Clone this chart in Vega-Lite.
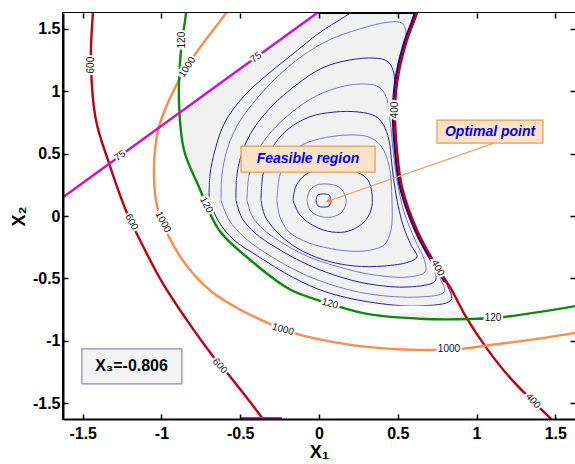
{
  "$schema": "https://vega.github.io/schema/vega-lite/v6.json",
  "width": 512,
  "height": 406,
  "autosize": {"type": "none"},
  "padding": {"left": 63, "top": 13, "right": 0, "bottom": 45},
  "background": "white",
  "config": {
    "view": {"stroke": "black", "strokeWidth": 2, "fill": "#f1f1f1"},
    "axis": {"labelFont": "Liberation Sans", "labelFontSize": 16, "labelFontWeight": "bold", "labelColor": "#000", "tickColor": "#000", "tickWidth": 1.5, "tickSize": -5, "domainColor": "#000", "domainWidth": 2, "grid": false, "titleFont": "Liberation Sans", "titleFontSize": 18, "titleFontWeight": "bold", "titleColor": "#000"}
  },
  "datasets": {
    "contours": [
      {"c":"c1","o":1,"x":-0.019,"y":0.128},{"c":"c1","o":2,"x":-0.006,"y":0.168},{"c":"c1","o":3,"x":0.029,"y":0.176},{"c":"c1","o":4,"x":0.063,"y":0.168},{"c":"c1","o":5,"x":0.076,"y":0.128},{"c":"c1","o":6,"x":0.063,"y":0.08},{"c":"c1","o":7,"x":0.029,"y":0.072},{"c":"c1","o":8,"x":-0.006,"y":0.08},{"c":"c1","o":9,"x":-0.019,"y":0.128},
      {"c":"c2","o":1,"x":-0.076,"y":0.128},{"c":"c2","o":2,"x":-0.057,"y":0.208},{"c":"c2","o":3,"x":-0.013,"y":0.248},{"c":"c2","o":4,"x":0.051,"y":0.256},{"c":"c2","o":5,"x":0.127,"y":0.232},{"c":"c2","o":6,"x":0.165,"y":0.168},{"c":"c2","o":7,"x":0.171,"y":0.104},{"c":"c2","o":8,"x":0.146,"y":0.032},{"c":"c2","o":9,"x":0.083,"y":-0.008},{"c":"c2","o":10,"x":0.0,"y":0.0},{"c":"c2","o":11,"x":-0.057,"y":0.048},{"c":"c2","o":12,"x":-0.076,"y":0.128},
      {"c":"c3","o":1,"x":-0.165,"y":0.128},{"c":"c3","o":2,"x":-0.146,"y":0.24},{"c":"c3","o":3,"x":-0.089,"y":0.328},{"c":"c3","o":4,"x":0,"y":0.376},{"c":"c3","o":5,"x":0.127,"y":0.384},{"c":"c3","o":6,"x":0.241,"y":0.352},{"c":"c3","o":7,"x":0.311,"y":0.288},{"c":"c3","o":8,"x":0.337,"y":0.168},{"c":"c3","o":9,"x":0.33,"y":0.048},{"c":"c3","o":10,"x":0.286,"y":-0.048},{"c":"c3","o":11,"x":0.19,"y":-0.12},{"c":"c3","o":12,"x":0.083,"y":-0.128},{"c":"c3","o":13,"x":-0.032,"y":-0.08},{"c":"c3","o":14,"x":-0.121,"y":0.008},{"c":"c3","o":15,"x":-0.165,"y":0.128},
      {"c":"c4","o":1,"x":-0.267,"y":0.128},{"c":"c4","o":2,"x":-0.248,"y":0.328},{"c":"c4","o":3,"x":-0.19,"y":0.488},{"c":"c4","o":4,"x":-0.108,"y":0.568},{"c":"c4","o":5,"x":0,"y":0.616},{"c":"c4","o":6,"x":0.171,"y":0.648},{"c":"c4","o":7,"x":0.317,"y":0.632},{"c":"c4","o":8,"x":0.394,"y":0.56},{"c":"c4","o":9,"x":0.444,"y":0.408},{"c":"c4","o":10,"x":0.463,"y":0.128},{"c":"c4","o":11,"x":0.457,"y":-0.112},{"c":"c4","o":12,"x":0.413,"y":-0.232},{"c":"c4","o":13,"x":0.286,"y":-0.28},{"c":"c4","o":14,"x":0.127,"y":-0.272},{"c":"c4","o":15,"x":-0.063,"y":-0.216},{"c":"c4","o":16,"x":-0.19,"y":-0.128},{"c":"c4","o":17,"x":-0.248,"y":-0.008},{"c":"c4","o":18,"x":-0.267,"y":0.128},
      {"c":"c5","o":1,"x":-0.368,"y":0.128},{"c":"c5","o":2,"x":-0.356,"y":0.328},{"c":"c5","o":3,"x":-0.305,"y":0.528},{"c":"c5","o":4,"x":-0.203,"y":0.688},{"c":"c5","o":5,"x":-0.063,"y":0.792},{"c":"c5","o":6,"x":0.095,"y":0.832},{"c":"c5","o":7,"x":0.254,"y":0.832},{"c":"c5","o":8,"x":0.356,"y":0.8},{"c":"c5","o":9,"x":0.406,"y":0.736},{"c":"c5","o":10,"x":0.444,"y":0.608},{"c":"c5","o":11,"x":0.463,"y":0.408},{"c":"c5","o":12,"x":0.489,"y":0.168},{"c":"c5","o":13,"x":0.533,"y":-0.072},{"c":"c5","o":14,"x":0.584,"y":-0.232},{"c":"c5","o":15,"x":0.622,"y":-0.328},{"c":"c5","o":16,"x":0.571,"y":-0.368},{"c":"c5","o":17,"x":0.413,"y":-0.4},{"c":"c5","o":18,"x":0.222,"y":-0.4},{"c":"c5","o":19,"x":0.032,"y":-0.352},{"c":"c5","o":20,"x":-0.14,"y":-0.256},{"c":"c5","o":21,"x":-0.267,"y":-0.128},{"c":"c5","o":22,"x":-0.343,"y":0},{"c":"c5","o":23,"x":-0.368,"y":0.128},
      {"c":"c6","o":1,"x":-0.457,"y":0.128},{"c":"c6","o":2,"x":-0.444,"y":0.328},{"c":"c6","o":3,"x":-0.394,"y":0.512},{"c":"c6","o":4,"x":-0.305,"y":0.672},{"c":"c6","o":5,"x":-0.171,"y":0.832},{"c":"c6","o":6,"x":-0.019,"y":0.96},{"c":"c6","o":7,"x":0.159,"y":1.04},{"c":"c6","o":8,"x":0.305,"y":1.056},{"c":"c6","o":9,"x":0.381,"y":1.032},{"c":"c6","o":10,"x":0.425,"y":0.96},{"c":"c6","o":11,"x":0.451,"y":0.768},{"c":"c6","o":12,"x":0.47,"y":0.528},{"c":"c6","o":13,"x":0.495,"y":0.288},{"c":"c6","o":14,"x":0.54,"y":0.032},{"c":"c6","o":15,"x":0.61,"y":-0.192},{"c":"c6","o":16,"x":0.673,"y":-0.368},{"c":"c6","o":17,"x":0.673,"y":-0.448},{"c":"c6","o":18,"x":0.571,"y":-0.488},{"c":"c6","o":19,"x":0.349,"y":-0.472},{"c":"c6","o":20,"x":0.127,"y":-0.408},{"c":"c6","o":21,"x":-0.063,"y":-0.328},{"c":"c6","o":22,"x":-0.222,"y":-0.224},{"c":"c6","o":23,"x":-0.349,"y":-0.112},{"c":"c6","o":24,"x":-0.425,"y":0},{"c":"c6","o":25,"x":-0.457,"y":0.128},
      {"c":"c7","o":1,"x":-0.527,"y":0.128},{"c":"c7","o":2,"x":-0.521,"y":0.328},{"c":"c7","o":3,"x":-0.483,"y":0.528},{"c":"c7","o":4,"x":-0.413,"y":0.704},{"c":"c7","o":5,"x":-0.298,"y":0.88},{"c":"c7","o":6,"x":-0.146,"y":1.048},{"c":"c7","o":7,"x":0.019,"y":1.184},{"c":"c7","o":8,"x":0.19,"y":1.248},{"c":"c7","o":9,"x":0.349,"y":1.264},{"c":"c7","o":10,"x":0.432,"y":1.24},{"c":"c7","o":11,"x":0.47,"y":1.168},{"c":"c7","o":12,"x":0.483,"y":0.928},{"c":"c7","o":13,"x":0.489,"y":0.608},{"c":"c7","o":14,"x":0.514,"y":0.288},{"c":"c7","o":15,"x":0.571,"y":0.008},{"c":"c7","o":16,"x":0.654,"y":-0.232},{"c":"c7","o":17,"x":0.73,"y":-0.416},{"c":"c7","o":18,"x":0.737,"y":-0.52},{"c":"c7","o":19,"x":0.571,"y":-0.568},{"c":"c7","o":20,"x":0.317,"y":-0.544},{"c":"c7","o":21,"x":0.095,"y":-0.472},{"c":"c7","o":22,"x":-0.095,"y":-0.376},{"c":"c7","o":23,"x":-0.279,"y":-0.248},{"c":"c7","o":24,"x":-0.406,"y":-0.136},{"c":"c7","o":25,"x":-0.489,"y":-0.016},{"c":"c7","o":26,"x":-0.527,"y":0.128},
      {"c":"c8","o":1,"x":-0.622,"y":0.128},{"c":"c8","o":2,"x":-0.616,"y":0.328},{"c":"c8","o":3,"x":-0.584,"y":0.528},{"c":"c8","o":4,"x":-0.521,"y":0.72},{"c":"c8","o":5,"x":-0.413,"y":0.912},{"c":"c8","o":6,"x":-0.273,"y":1.104},{"c":"c8","o":7,"x":-0.108,"y":1.28},{"c":"c8","o":8,"x":0.063,"y":1.408},{"c":"c8","o":9,"x":0.254,"y":1.496},{"c":"c8","o":10,"x":0.444,"y":1.552},{"c":"c8","o":11,"x":0.527,"y":1.544},{"c":"c8","o":12,"x":0.552,"y":1.472},{"c":"c8","o":13,"x":0.521,"y":1.248},{"c":"c8","o":14,"x":0.502,"y":0.928},{"c":"c8","o":15,"x":0.502,"y":0.528},{"c":"c8","o":16,"x":0.527,"y":0.208},{"c":"c8","o":17,"x":0.597,"y":-0.064},{"c":"c8","o":18,"x":0.686,"y":-0.288},{"c":"c8","o":19,"x":0.768,"y":-0.496},{"c":"c8","o":20,"x":0.794,"y":-0.608},{"c":"c8","o":21,"x":0.635,"y":-0.648},{"c":"c8","o":22,"x":0.317,"y":-0.624},{"c":"c8","o":23,"x":0.063,"y":-0.544},{"c":"c8","o":24,"x":-0.127,"y":-0.448},{"c":"c8","o":25,"x":-0.349,"y":-0.288},{"c":"c8","o":26,"x":-0.476,"y":-0.168},{"c":"c8","o":27,"x":-0.571,"y":-0.032},{"c":"c8","o":28,"x":-0.622,"y":0.128},
      {"c":"c9","o":1,"x":-0.698,"y":0.128},{"c":"c9","o":2,"x":-0.692,"y":0.328},{"c":"c9","o":3,"x":-0.66,"y":0.528},{"c":"c9","o":4,"x":-0.597,"y":0.752},{"c":"c9","o":5,"x":-0.476,"y":0.96},{"c":"c9","o":6,"x":-0.317,"y":1.144},{"c":"c9","o":7,"x":-0.159,"y":1.304},{"c":"c9","o":8,"x":0,"y":1.464},{"c":"c9","o":9,"x":0.159,"y":1.592},{"c":"c9","o":10,"x":0.286,"y":1.688},{"c":"c9","o":11,"x":0.444,"y":1.768},{"c":"c9","o":12,"x":0.603,"y":1.768},{"c":"c9","o":13,"x":0.61,"y":1.648},{"c":"c9","o":14,"x":0.559,"y":1.408},{"c":"c9","o":15,"x":0.514,"y":1.088},{"c":"c9","o":16,"x":0.508,"y":0.768},{"c":"c9","o":17,"x":0.514,"y":0.448},{"c":"c9","o":18,"x":0.546,"y":0.152},{"c":"c9","o":19,"x":0.629,"y":-0.112},{"c":"c9","o":20,"x":0.717,"y":-0.336},{"c":"c9","o":21,"x":0.813,"y":-0.552},{"c":"c9","o":22,"x":0.838,"y":-0.672},{"c":"c9","o":23,"x":0.635,"y":-0.72},{"c":"c9","o":24,"x":0.317,"y":-0.688},{"c":"c9","o":25,"x":0.044,"y":-0.608},{"c":"c9","o":26,"x":-0.159,"y":-0.496},{"c":"c9","o":27,"x":-0.4,"y":-0.312},{"c":"c9","o":28,"x":-0.54,"y":-0.192},{"c":"c9","o":29,"x":-0.635,"y":-0.048},{"c":"c9","o":30,"x":-0.698,"y":0.128}
    ],
    "curves": [
      {"k":"r600","o":1,"x":-1.43,"y":1.7},{"k":"r600","o":2,"x":-1.435,"y":1.624},{"k":"r600","o":3,"x":-1.448,"y":1.248},{"k":"r600","o":4,"x":-1.416,"y":0.768},{"k":"r600","o":5,"x":-1.333,"y":0.424},{"k":"r600","o":6,"x":-1.219,"y":0.024},{"k":"r600","o":7,"x":-1.162,"y":-0.128},{"k":"r600","o":8,"x":-0.997,"y":-0.528},{"k":"r600","o":9,"x":-0.844,"y":-0.824},{"k":"r600","o":10,"x":-0.679,"y":-1.112},{"k":"r600","o":11,"x":-0.552,"y":-1.304},{"k":"r600","o":12,"x":-0.362,"y":-1.616},{"k":"r600","o":13,"x":-0.33,"y":-1.68},
      {"k":"r400","o":1,"x":0.64,"y":1.7},{"k":"r400","o":2,"x":0.622,"y":1.624},{"k":"r400","o":3,"x":0.552,"y":1.384},{"k":"r400","o":4,"x":0.495,"y":1.064},{"k":"r400","o":5,"x":0.483,"y":0.792},{"k":"r400","o":6,"x":0.495,"y":0.528},{"k":"r400","o":7,"x":0.527,"y":0.232},{"k":"r400","o":8,"x":0.622,"y":-0.112},{"k":"r400","o":9,"x":0.73,"y":-0.368},{"k":"r400","o":10,"x":0.838,"y":-0.584},{"k":"r400","o":11,"x":0.933,"y":-0.808},{"k":"r400","o":12,"x":1.067,"y":-1.064},{"k":"r400","o":13,"x":1.219,"y":-1.304},{"k":"r400","o":14,"x":1.473,"y":-1.624},{"k":"r400","o":15,"x":1.52,"y":-1.68},
      {"k":"o1000","o":1,"x":-0.55,"y":1.7},{"k":"o1000","o":2,"x":-0.59,"y":1.624},{"k":"o1000","o":3,"x":-0.781,"y":1.304},{"k":"o1000","o":4,"x":-0.889,"y":1.088},{"k":"o1000","o":5,"x":-1.016,"y":0.712},{"k":"o1000","o":6,"x":-1.048,"y":0.344},{"k":"o1000","o":7,"x":-1.022,"y":0.048},{"k":"o1000","o":8,"x":-0.952,"y":-0.168},{"k":"o1000","o":9,"x":-0.844,"y":-0.392},{"k":"o1000","o":10,"x":-0.679,"y":-0.608},{"k":"o1000","o":11,"x":-0.508,"y":-0.744},{"k":"o1000","o":12,"x":-0.298,"y":-0.872},{"k":"o1000","o":13,"x":-0.222,"y":-0.912},{"k":"o1000","o":14,"x":-0.013,"y":-0.984},{"k":"o1000","o":15,"x":0.305,"y":-1.048},{"k":"o1000","o":16,"x":0.622,"y":-1.072},{"k":"o1000","o":17,"x":0.902,"y":-1.064},{"k":"o1000","o":18,"x":1.092,"y":-1.032},{"k":"o1000","o":19,"x":1.384,"y":-0.984},{"k":"o1000","o":20,"x":1.7,"y":-0.92},
      {"k":"g120","o":1,"x":-0.84,"y":1.7},{"k":"g120","o":2,"x":-0.844,"y":1.624},{"k":"g120","o":3,"x":-0.876,"y":1.328},{"k":"g120","o":4,"x":-0.889,"y":0.928},{"k":"g120","o":5,"x":-0.857,"y":0.528},{"k":"g120","o":6,"x":-0.762,"y":0.232},{"k":"g120","o":7,"x":-0.635,"y":-0.112},{"k":"g120","o":8,"x":-0.444,"y":-0.344},{"k":"g120","o":9,"x":-0.19,"y":-0.584},{"k":"g120","o":10,"x":0.032,"y":-0.688},{"k":"g120","o":11,"x":0.305,"y":-0.784},{"k":"g120","o":12,"x":0.667,"y":-0.824},{"k":"g120","o":13,"x":0.965,"y":-0.824},{"k":"g120","o":14,"x":1.175,"y":-0.808},{"k":"g120","o":15,"x":1.7,"y":-0.705},
      {"k":"m75","o":1,"x":-1.7,"y":0.082},{"k":"m75","o":2,"x":0.07,"y":1.7},
      {"k":"m75b","o":1,"x":-0.495,"y":-1.618},{"k":"m75b","o":2,"x":-0.235,"y":-1.618},
      {"k":"band","o":1,"x":0.61,"y":1.7},{"k":"band","o":2,"x":0.607,"y":1.624},{"k":"band","o":3,"x":0.539,"y":1.384},{"k":"band","o":4,"x":0.482,"y":1.064},{"k":"band","o":5,"x":0.47,"y":0.792},{"k":"band","o":6,"x":0.482,"y":0.528},{"k":"band","o":7,"x":0.514,"y":0.232},{"k":"band","o":8,"x":0.609,"y":-0.112},{"k":"band","o":9,"x":0.717,"y":-0.368},{"k":"band","o":10,"x":0.8,"y":-0.53}
    ],
    "labs": [
      {"t":"600","g":"v","x":-1.446,"y":1.208},
      {"t":"600","g":"s62","x":-1.19,"y":-0.048},
      {"t":"600","g":"s48","x":-0.63,"y":-1.2},
      {"t":"400","g":"v","x":0.485,"y":0.848},
      {"t":"400","g":"s62","x":0.754,"y":-0.416},
      {"t":"400","g":"s48","x":1.359,"y":-1.48},
      {"t":"1000","g":"u","x":-0.837,"y":1.192},
      {"t":"1000","g":"s62","x":-0.99,"y":-0.048},
      {"t":"1000","g":"s16","x":-0.229,"y":-0.908},
      {"t":"1000","g":"h","x":0.825,"y":-1.066},
      {"t":"120","g":"v","x":-0.867,"y":1.408},
      {"t":"120","g":"s62","x":-0.715,"y":0.088},
      {"t":"120","g":"s16","x":0.07,"y":-0.701},
      {"t":"120","g":"h","x":1.105,"y":-0.813},
      {"t":"75","g":"d","x":-1.263,"y":0.481},
      {"t":"75","g":"d","x":-0.4,"y":1.27}
    ],
    "boxes": [
      {"b":"feas","x":-0.495,"x2":0.356,"y":0.56,"y2":0.352},
      {"b":"opt","x":0.749,"x2":1.422,"y":0.768,"y2":0.584},
      {"b":"x3","x":-1.505,"x2":-0.87,"y":-1.064,"y2":-1.344}
    ],
    "notes": [
      {"n":"Feasible region","x":-0.07,"y":0.456},
      {"n":"Optimal point","x":1.086,"y":0.676}
    ],
    "arrow": [
      {"o":1,"x":1.111,"y":0.584},
      {"o":2,"x":0.06,"y":0.12}
    ]
  },
  "resolve": {"scale": {"color": "independent"}, "axis": {"x": "independent", "y": "independent"}},
  "layer": [
    {
      "data": {"name": "contours"},
      "mark": {"type": "line", "strokeWidth": 1, "interpolate": "catmull-rom", "clip": true},
      "encoding": {
        "x": {"field": "x", "type": "quantitative", "scale": {"domain": [-1.625, 1.625], "nice": false, "zero": false},
              "axis": {"orient": "bottom", "zindex": 2, "values": [-1.5, -1, -0.5, 0, 0.5, 1, 1.5], "labelPadding": 11, "labelExpr": "replace(format(datum.value,'~g'),'−','-')", "title": "X₁", "titlePadding": 2}},
        "y": {"field": "y", "type": "quantitative", "scale": {"domain": [-1.625, 1.625], "nice": false, "zero": false},
              "axis": {"orient": "left", "zindex": 2, "values": [-1.5, -1, -0.5, 0, 0.5, 1, 1.5], "labelPadding": 8, "labelExpr": "replace(format(datum.value,'~g'),'−','-')", "title": "X₂", "titlePadding": 4}},
        "detail": {"field": "c"},
        "order": {"field": "o", "type": "quantitative"},
        "color": {"field": "c", "type": "nominal", "legend": null,
                  "scale": {"domain": ["c1","c2","c3","c4","c5","c6","c7","c8","c9"], "range": ["#23239a","#7878c8","#23239a","#7878c8","#23239a","#7878c8","#23239a","#7878c8","#23239a"]}}
      }
    },
    {
      "data": {"name": "curves"},
      "transform": [{"filter": "datum.k == 'r400'"}],
      "mark": {"type": "area", "orient": "horizontal", "color": "white", "interpolate": "catmull-rom", "clip": true},
      "encoding": {
        "y": {"field": "y", "type": "quantitative", "scale": {"domain": [-1.625, 1.625], "nice": false, "zero": false},
              "axis": {"orient": "right", "zindex": 2, "values": [-1.5, -1, -0.5, 0, 0.5, 1, 1.5], "labels": false, "title": null, "domain": false}},
        "x": {"field": "x", "type": "quantitative", "scale": {"domain": [-1.625, 1.625], "nice": false, "zero": false},
              "axis": {"orient": "top", "zindex": 2, "values": [-1.5, -1, -0.5, 0, 0.5, 1, 1.5], "labels": false, "title": null, "domain": false}},
        "x2": {"datum": 1.7}
      }
    },
    {
      "data": {"name": "curves"},
      "transform": [{"filter": "datum.k == 'g120' && datum.y >= -0.79"}],
      "mark": {"type": "area", "orient": "horizontal", "color": "white", "interpolate": "catmull-rom", "clip": true},
      "encoding": {
        "y": {"field": "y", "type": "quantitative", "scale": {"domain": [-1.625, 1.625], "nice": false, "zero": false}, "axis": null},
        "x": {"field": "x", "type": "quantitative", "scale": {"domain": [-1.625, 1.625], "nice": false, "zero": false}, "axis": null},
        "x2": {"datum": -1.7}
      }
    },
    {
      "data": {"name": "curves"},
      "transform": [{"filter": "datum.k == 'g120' && datum.x > -0.64"}],
      "mark": {"type": "area", "orient": "vertical", "color": "white", "interpolate": "catmull-rom", "clip": true},
      "encoding": {
        "x": {"field": "x", "type": "quantitative", "scale": {"domain": [-1.625, 1.625], "nice": false, "zero": false}, "axis": null},
        "y": {"field": "y", "type": "quantitative", "scale": {"domain": [-1.625, 1.625], "nice": false, "zero": false}, "axis": null},
        "y2": {"datum": -1.7}
      }
    },
    {
      "data": {"values": [{"m": "corner"}]},
      "mark": {"type": "rect", "color": "white", "clip": true},
      "encoding": {
        "x": {"datum": -1.7, "type": "quantitative", "scale": {"domain": [-1.625, 1.625], "nice": false, "zero": false}, "axis": null},
        "x2": {"datum": 0.305},
        "y": {"datum": -1.7, "type": "quantitative", "scale": {"domain": [-1.625, 1.625], "nice": false, "zero": false}, "axis": null},
        "y2": {"datum": -0.784}
      }
    },
    {
      "data": {"name": "curves"},
      "transform": [{"filter": "datum.k == 'm75'"}],
      "mark": {"type": "area", "orient": "vertical", "color": "white", "clip": true},
      "encoding": {
        "x": {"field": "x", "type": "quantitative", "scale": {"domain": [-1.625, 1.625], "nice": false, "zero": false}, "axis": null},
        "y": {"field": "y", "type": "quantitative", "scale": {"domain": [-1.625, 1.625], "nice": false, "zero": false}, "axis": null},
        "y2": {"datum": 1.7}
      }
    },
    {
      "data": {"name": "curves"},
      "transform": [{"filter": "datum.k == 'band'"}],
      "mark": {"type": "line", "color": "#10108a", "strokeWidth": 2.2, "interpolate": "catmull-rom", "clip": true},
      "encoding": {
        "x": {"field": "x", "type": "quantitative", "scale": {"domain": [-1.625, 1.625], "nice": false, "zero": false}, "axis": null},
        "y": {"field": "y", "type": "quantitative", "scale": {"domain": [-1.625, 1.625], "nice": false, "zero": false}, "axis": null},
        "order": {"field": "o", "type": "quantitative"}
      }
    },
    {
      "data": {"name": "curves"},
      "transform": [{"filter": "datum.k != 'band'"}],
      "mark": {"type": "line", "strokeWidth": 2.4, "interpolate": "catmull-rom", "clip": true},
      "encoding": {
        "x": {"field": "x", "type": "quantitative", "scale": {"domain": [-1.625, 1.625], "nice": false, "zero": false}, "axis": null},
        "y": {"field": "y", "type": "quantitative", "scale": {"domain": [-1.625, 1.625], "nice": false, "zero": false}, "axis": null},
        "detail": {"field": "k"},
        "order": {"field": "o", "type": "quantitative"},
        "color": {"field": "k", "type": "nominal", "legend": null,
                  "scale": {"domain": ["r600","r400","o1000","g120","m75","m75b"], "range": ["#c00010","#c00010","#ff8a4a","#0a8a0a","#cc10cc","#cc10cc"]}}
      }
    },
    {
      "data": {"name": "labs"},
      "mark": {"type": "text", "font": "Liberation Sans", "fontSize": 10, "stroke": "white", "strokeWidth": 4, "fill": "white", "align": "center", "baseline": "middle"},
      "encoding": {
        "x": {"field": "x", "type": "quantitative", "scale": {"domain": [-1.625, 1.625], "nice": false, "zero": false}, "axis": null},
        "y": {"field": "y", "type": "quantitative", "scale": {"domain": [-1.625, 1.625], "nice": false, "zero": false}, "axis": null},
        "text": {"field": "t"},
        "angle": {"field": "g", "type": "nominal", "scale": {"type": "ordinal", "domain": ["v","s62","s48","u","s16","h","d"], "range": [270, 62, 48, 302, 16, 0, 324]}, "legend": null}
      }
    },
    {
      "data": {"name": "labs"},
      "mark": {"type": "text", "font": "Liberation Sans", "fontSize": 10, "color": "#111", "align": "center", "baseline": "middle"},
      "encoding": {
        "x": {"field": "x", "type": "quantitative", "scale": {"domain": [-1.625, 1.625], "nice": false, "zero": false}, "axis": null},
        "y": {"field": "y", "type": "quantitative", "scale": {"domain": [-1.625, 1.625], "nice": false, "zero": false}, "axis": null},
        "text": {"field": "t"},
        "angle": {"field": "g", "type": "nominal", "scale": {"type": "ordinal", "domain": ["v","s62","s48","u","s16","h","d"], "range": [270, 62, 48, 302, 16, 0, 324]}, "legend": null}
      }
    },
    {
      "data": {"name": "arrow"},
      "mark": {"type": "line", "color": "#f0a060", "strokeWidth": 1.3},
      "encoding": {
        "x": {"field": "x", "type": "quantitative", "scale": {"domain": [-1.625, 1.625], "nice": false, "zero": false}, "axis": null},
        "y": {"field": "y", "type": "quantitative", "scale": {"domain": [-1.625, 1.625], "nice": false, "zero": false}, "axis": null},
        "order": {"field": "o", "type": "quantitative"}
      }
    },
    {
      "data": {"name": "arrow"},
      "transform": [{"filter": "datum.o == 2"}],
      "mark": {"type": "point", "shape": "triangle-up", "filled": true, "color": "#f08a40", "size": 45, "angle": 251, "opacity": 1},
      "encoding": {
        "x": {"field": "x", "type": "quantitative", "scale": {"domain": [-1.625, 1.625], "nice": false, "zero": false}, "axis": null},
        "y": {"field": "y", "type": "quantitative", "scale": {"domain": [-1.625, 1.625], "nice": false, "zero": false}, "axis": null}
      }
    },
    {
      "data": {"name": "boxes"},
      "transform": [{"filter": "datum.b != 'x3'"}],
      "mark": {"type": "rect", "fill": "#fde3c6", "stroke": "#e89a58", "strokeWidth": 1.2},
      "encoding": {
        "x": {"field": "x", "type": "quantitative", "scale": {"domain": [-1.625, 1.625], "nice": false, "zero": false}, "axis": null},
        "x2": {"field": "x2"},
        "y": {"field": "y", "type": "quantitative", "scale": {"domain": [-1.625, 1.625], "nice": false, "zero": false}, "axis": null},
        "y2": {"field": "y2"}
      }
    },
    {
      "data": {"name": "boxes"},
      "transform": [{"filter": "datum.b == 'x3'"}],
      "mark": {"type": "rect", "fill": "#f4f4f4", "stroke": "#8090b4", "strokeWidth": 1.2},
      "encoding": {
        "x": {"field": "x", "type": "quantitative", "scale": {"domain": [-1.625, 1.625], "nice": false, "zero": false}, "axis": null},
        "x2": {"field": "x2"},
        "y": {"field": "y", "type": "quantitative", "scale": {"domain": [-1.625, 1.625], "nice": false, "zero": false}, "axis": null},
        "y2": {"field": "y2"}
      }
    },
    {
      "data": {"name": "notes"},
      "mark": {"type": "text", "font": "Liberation Sans", "fontSize": 14, "fontWeight": "bold", "fontStyle": "italic", "color": "#0000f0", "align": "center", "baseline": "middle"},
      "encoding": {
        "x": {"field": "x", "type": "quantitative", "scale": {"domain": [-1.625, 1.625], "nice": false, "zero": false}, "axis": null},
        "y": {"field": "y", "type": "quantitative", "scale": {"domain": [-1.625, 1.625], "nice": false, "zero": false}, "axis": null},
        "text": {"field": "n"}
      }
    },
    {
      "data": {"values": [{"n": "X₃=-0.806", "x": -1.19, "y": -1.2}]},
      "mark": {"type": "text", "font": "Liberation Sans", "fontSize": 16, "fontWeight": "bold", "color": "#000", "align": "center", "baseline": "middle"},
      "encoding": {
        "x": {"field": "x", "type": "quantitative", "scale": {"domain": [-1.625, 1.625], "nice": false, "zero": false}, "axis": null},
        "y": {"field": "y", "type": "quantitative", "scale": {"domain": [-1.625, 1.625], "nice": false, "zero": false}, "axis": null},
        "text": {"field": "n"}
      }
    }
  ]
}
